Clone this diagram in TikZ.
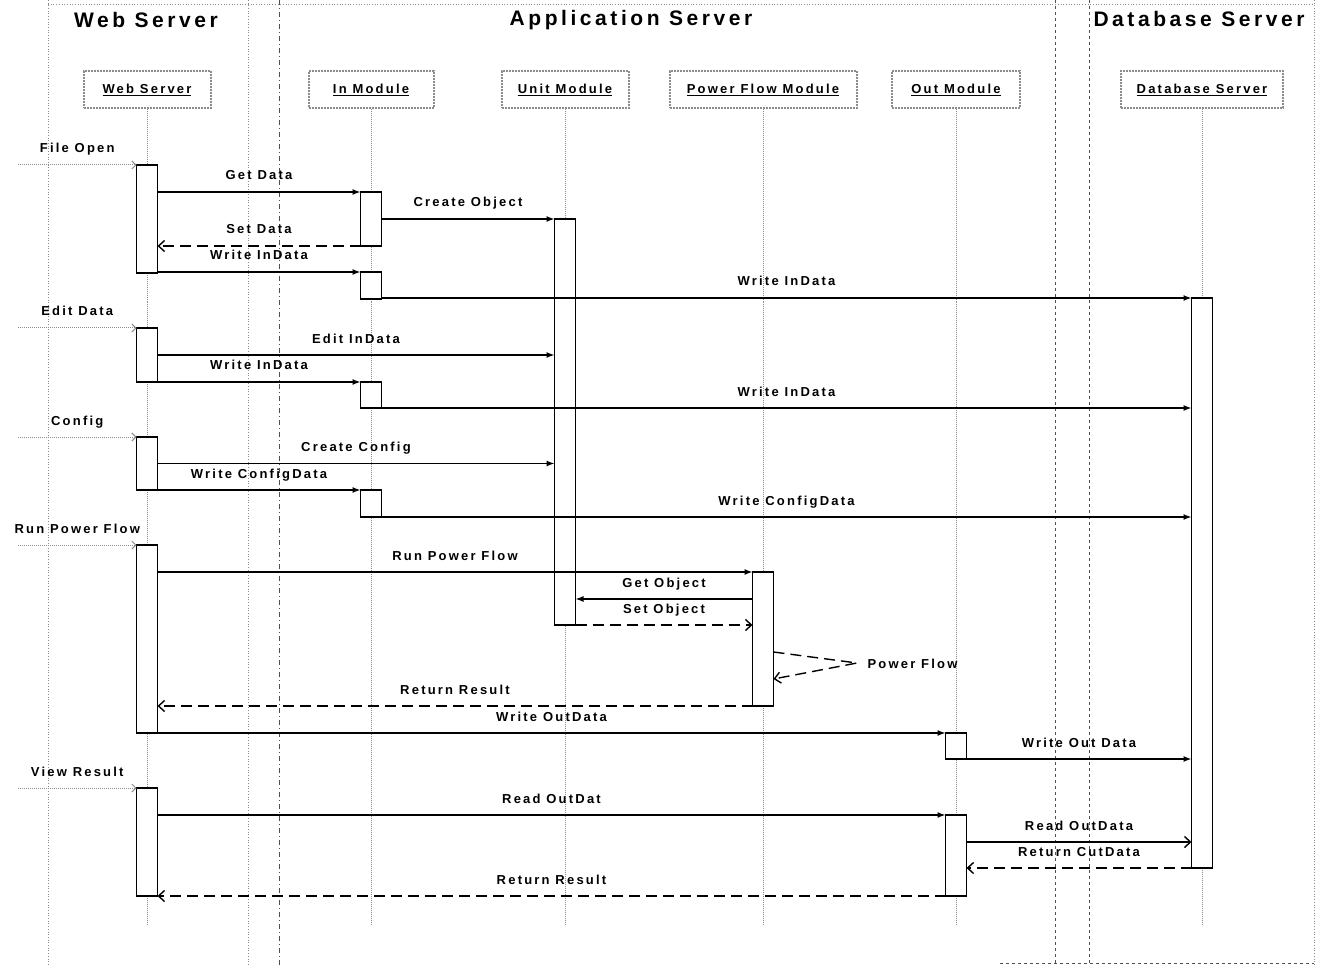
\documentclass[tikz,border=0pt]{standalone}
\usepackage{fontspec}
\setmainfont{Liberation Sans}[LetterSpace=15]
\usepackage{tikz}
\usetikzlibrary{calc,arrows.meta}
\definecolor{ink}{HTML}{000000}
\definecolor{lane}{HTML}{505050}
\definecolor{life}{HTML}{8C8C8C}
\tikzset{
  lanesep/.style={draw=lane, line width=0.8pt, dash pattern=on 3pt off 3pt},
  lanedot/.style={draw=life, line width=0.7pt, dotted},
  title/.style={font=\fontsize{21}{24}\selectfont\bfseries\addfontfeature{LetterSpace=17}},
  labfont/.style={font=\fontsize{13}{15}\selectfont\bfseries\addfontfeature{LetterSpace=17}},
  head/.style={draw=life, line width=2pt, densely dotted, minimum height=37pt, inner sep=0pt, labfont},
  lifeline/.style={draw=life, line width=1pt, densely dotted},
  bar/.style={draw=ink, fill=white, line width=1.4pt, minimum width=21pt, inner sep=0pt, outer sep=0pt, anchor=north},
  msg/.style={draw=ink, line width=1.4pt, -{Latex[length=8pt,width=6pt]}},
  msgo/.style={draw=ink, line width=1.4pt, -{Straight Barb[length=6pt,width=11pt]}},
  ret/.style={draw=ink, line width=1.4pt, dash pattern=on 11pt off 6pt, -{Straight Barb[length=6pt,width=11pt]}},
  found/.style={draw=life, line width=1pt, densely dotted, -{Straight Barb[length=4pt,width=8pt]}},
  lab/.style={labfont, inner sep=0pt, anchor=base, yshift=12pt},
}
\begin{document}
\begin{tikzpicture}[x=1pt,y=-1pt]
  \useasboundingbox (0,0) rectangle (1319,965);
  \fill[white] (0,0) rectangle (1319,965);

  % swimlanes
  \draw[lanedot] (48,4) -- (1314,4);
  \draw[lanedot] (48,0) -- (48,965);
  \draw[lanedot] (248,0) -- (248,965);
  \draw[lanesep, dash pattern=on 5pt off 3pt on 1pt off 3pt] (279,0) -- (279,965);
  \draw[lanesep] (1055,0) -- (1055,965);
  \draw[lanesep] (1089,0) -- (1089,965);
  \draw[lanedot] (1314,0) -- (1314,965);
  \draw[lanesep] (1000,963) -- (1314,963);
  \node[title] (tweb) at (146,20) {Web Server};
  \node[title] (tapp) at (631,20) {Application Server};
  \node[title] (tdb) at (1199,19) {Database Server};

  % objects
  \node[head, minimum width=127pt] (hws) at (147,90) {\underline{Web Server}};
  \node[head, minimum width=125pt] (hin) at (371,90) {\underline{In Module}};
  \node[head, minimum width=127pt] (hum) at (565,90) {\underline{Unit Module}};
  \node[head, minimum width=187pt] (hpf) at (763,90) {\underline{Power Flow Module}};
  \node[head, minimum width=128pt] (hom) at (956,90) {\underline{Out Module}};
  \node[head, minimum width=162pt] (hdb) at (1202,90) {\underline{Database Server}};
  \coordinate (lifeend) at (0,925);
  \coordinate (gate) at (18,0);
  \foreach \h in {hws,hin,hum,hpf,hom,hdb}
    \draw[lifeline] (\h.south) -- (\h.south |- lifeend);

  % activations
  \node[bar, minimum height=108pt] (ws1) at (147,165) {};
  \node[bar, minimum height=54pt]  (ws2) at (147,328) {};
  \node[bar, minimum height=53pt]  (ws3) at (147,437) {};
  \node[bar, minimum height=188pt] (ws4) at (147,545) {};
  \node[bar, minimum height=108pt] (ws5) at (147,788) {};
  \node[bar, minimum height=54pt]  (in1) at (371,192) {};
  \node[bar, minimum height=27pt]  (in2) at (371,272) {};
  \node[bar, minimum height=26pt]  (in3) at (371,382) {};
  \node[bar, minimum height=27pt]  (in4) at (371,490) {};
  \node[bar, minimum height=406pt] (um)  at (565,219) {};
  \node[bar, minimum height=134pt] (pf)  at (763,572) {};
  \node[bar, minimum height=26pt]  (om1) at (956,733) {};
  \node[bar, minimum height=81pt]  (om2) at (956,815) {};
  \node[bar, minimum height=570pt] (db)  at (1202,298) {};

  % file open
  \draw[found] (ws1.north west -| gate) -- node[lab] {File Open} (ws1.north west);
  \draw[msg] (ws1.east |- in1.north) -- node[lab] {Get Data} (in1.north west);
  \draw[msg] (in1.east |- um.north) -- node[lab] {Create Object} (um.north west);
  \draw[ret] (in1.south west) -- node[lab] {Set Data} (in1.south west -| ws1.east);
  \draw[msg] (ws1.east |- in2.north) -- node[lab] {Write InData} (in2.north west);
  \draw[msg] (in2.east |- db.north) -- node[lab] {Write InData} (db.north west);

  % edit data
  \draw[found] (ws2.north west -| gate) -- node[lab] {Edit Data} (ws2.north west);
  \draw[msg] (ws2.east) -- node[lab] {Edit InData} (ws2.east -| um.west);
  \draw[msg] (ws2.south east) -- node[lab] {Write InData} (in3.north west);
  \draw[msg] (in3.south east) -- node[lab] {Write InData} (in3.south east -| db.west);

  % config
  \draw[found] (ws3.north west -| gate) -- node[lab] {Config} (ws3.north west);
  \draw[msg] (ws3.east) -- node[lab] {Create Config} (ws3.east -| um.west);
  \draw[msg] (ws3.south east) -- node[lab] {Write ConfigData} (in4.north west);
  \draw[msg] (in4.south east) -- node[lab] {Write ConfigData} (in4.south east -| db.west);

  % run power flow
  \draw[found] (ws4.north west -| gate) -- node[lab] {Run Power Flow} (ws4.north west);
  \draw[msg] (ws4.east |- pf.north) -- node[lab] {Run Power Flow} (pf.north west);
  \draw[msg] ([yshift=26pt]um.south east -| pf.west) -- node[lab] {Get Object} ([yshift=26pt]um.south east);
  \draw[ret] (um.south east) -- node[lab] {Set Object} (um.south east -| pf.west);
  \coordinate (pfturn) at (857,663);
  \draw[ret] ([yshift=-13pt]pf.east) -- (pfturn) -- ([yshift=-40pt]pf.east);
  \node[labfont, anchor=west] (pflab) at (864,664) {Power Flow};
  \draw[ret] (pf.south west) -- node[lab] {Return Result} (pf.south west -| ws4.east);
  \draw[msg] (ws4.south east) -- node[lab] {Write OutData} (om1.north west);
  \draw[msg] (om1.south east) -- node[lab] {Write Out Data} (om1.south east -| db.west);

  % view result
  \draw[found] (ws5.north west -| gate) -- node[lab] {View Result} (ws5.north west);
  \draw[msg] (ws5.east |- om2.north) -- node[lab] {Read OutDat} (om2.north west);
  \draw[msgo] ([yshift=-27pt]om2.north east) -- node[lab] {Read OutData} ([yshift=-27pt]om2.north east -| db.west);
  \draw[ret] (db.south west) -- node[lab] {Return CutData} (db.south west -| om2.east);
  \draw[ret] (om2.south west) -- node[lab] {Return Result} (ws5.south east);
\end{tikzpicture}
\end{document}
